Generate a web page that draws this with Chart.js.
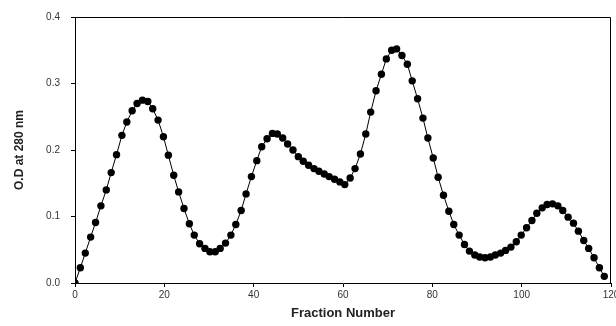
<!DOCTYPE html>
<html>
<head>
<meta charset="utf-8">
<script src="https://cdn.jsdelivr.net/npm/chart.js@4/dist/chart.umd.min.js"></script>
<style>
  html, body { margin: 0; padding: 0; background: #fff; }
  #wrap { width: 616px; height: 326px; position: relative; }
</style>
</head>
<body>
<div id="wrap"><canvas id="myChart" width="616" height="326"></canvas></div>
<script>
// fraction numbers
const fractions = [0, 1.2, 2.3, 3.5, 4.6, 5.8, 7.0, 8.1, 9.3, 10.5,
  11.6, 12.8, 13.9, 15.1, 16.3, 17.4, 18.6, 19.8, 20.9, 22.1,
  23.2, 24.4, 25.6, 26.7, 27.9, 29.1, 30.2, 31.4, 32.5, 33.7,
  34.9, 36.0, 37.2, 38.3, 39.5, 40.7, 41.8, 43.0, 44.2, 45.3,
  46.5, 47.6, 48.8, 50.0, 51.1, 52.3, 53.5, 54.6, 55.8, 56.9,
  58.1, 59.3, 60.4, 61.6, 62.7, 63.9, 65.1, 66.2, 67.4, 68.6,
  69.7, 70.9, 72.0, 73.2, 74.4, 75.5, 76.7, 77.9, 79.0, 80.2,
  81.3, 82.5, 83.7, 84.8, 86.0, 87.2, 88.3, 89.5, 90.6, 91.8,
  93.0, 94.1, 95.3, 96.4, 97.6, 98.8, 99.9, 101.1, 102.3, 103.4,
  104.6, 105.7, 106.9, 108.1, 109.2, 110.4, 111.6, 112.7, 113.9, 115.0,
  116.2, 117.4, 118.5]

// absorbance at 280 nm
const absorbance = [0.000, 0.023, 0.045, 0.069, 0.091, 0.116, 0.140, 0.166, 0.193, 0.222,
  0.242, 0.259, 0.270, 0.275, 0.273, 0.262, 0.245, 0.220, 0.192, 0.162,
  0.137, 0.112, 0.089, 0.072, 0.059, 0.052, 0.047, 0.047, 0.052, 0.060,
  0.072, 0.088, 0.109, 0.134, 0.160, 0.184, 0.205, 0.217, 0.225, 0.224,
  0.218, 0.209, 0.200, 0.190, 0.183, 0.177, 0.172, 0.168, 0.164, 0.160,
  0.156, 0.152, 0.148, 0.158, 0.172, 0.194, 0.224, 0.257, 0.289, 0.314,
  0.337, 0.350, 0.352, 0.342, 0.329, 0.304, 0.277, 0.248, 0.218, 0.188,
  0.159, 0.132, 0.108, 0.088, 0.072, 0.058, 0.048, 0.042, 0.039, 0.038,
  0.039, 0.042, 0.045, 0.049, 0.054, 0.062, 0.072, 0.083, 0.094, 0.105,
  0.113, 0.118, 0.119, 0.116, 0.109, 0.099, 0.090, 0.078, 0.064, 0.052,
  0.038, 0.023, 0.010]

const xTicks = [0, 20, 40, 60, 80, 100, 120]
const yTicks = [0.0, 0.1, 0.2, 0.3, 0.4]

document.addEventListener('DOMContentLoaded', function() {
  initChart()
})

// draws the top and right edge of the plot box
const frameBox = {
  id: 'frameBox',
  afterDraw(chart) {
    const a = chart.chartArea
    const ctx = chart.ctx
    ctx.save()
    ctx.strokeStyle = '#000'
    ctx.lineWidth = 1
    ctx.beginPath()
    ctx.moveTo(a.left, a.top + 0.5)
    ctx.lineTo(a.right - 0.5, a.top + 0.5)
    ctx.lineTo(a.right - 0.5, a.bottom)
    ctx.stroke()
    ctx.restore()
  }
}

function initChart() {
  const ctx = document.getElementById('myChart').getContext('2d')
  const points = fractions.map((f, i) => ({ x: f, y: absorbance[i] }))

  return new Chart(ctx, {
    type: 'line',
    data: {
      datasets: [{
        data: points,
        borderColor: '#000',
        borderWidth: 1,
        backgroundColor: '#000',
        pointBackgroundColor: '#000',
        pointBorderWidth: 0,
        pointRadius: 3.7,
        tension: 0
      }]
    },
    plugins: [frameBox],
    options: {
      responsive: false,
      animation: false,
      layout: { padding: { top: 16, right: 5, left: 0, bottom: 0 } },
      plugins: {
        legend: { display: false },
        tooltip: { enabled: false }
      },
      scales: {
        x: {
          type: 'linear',
          min: 0,
          max: 120,
          afterBuildTicks: function(scale) {
            scale.ticks = xTicks.map(v => ({ value: v }))
          },
          afterFit: function(scale) {
            scale.height = 43
            scale.paddingLeft = 0
            scale.paddingRight = 0
          },
          grid: { display: true, drawOnChartArea: false, tickLength: 4, color: '#000' },
          border: { display: true, color: '#000', width: 1 },
          ticks: {
            color: '#333',
            font: { family: 'Liberation Sans', size: 10 },
            padding: 2,
            maxRotation: 0
          },
          title: {
            display: true,
            text: 'Fraction Number',
            color: '#222',
            font: { family: 'Liberation Sans', size: 13, weight: 'bold' },
            padding: { top: 4, bottom: 5 }
          }
        },
        y: {
          min: 0,
          max: 0.4,
          afterBuildTicks: function(scale) {
            scale.ticks = yTicks.map(v => ({ value: v }))
          },
          afterFit: function(scale) {
            scale.width = 75
          },
          grid: { display: true, drawOnChartArea: false, tickLength: 4, color: '#000' },
          border: { display: true, color: '#000', width: 1 },
          ticks: {
            color: '#333',
            font: { family: 'Liberation Sans', size: 10 },
            padding: 11,
            callback: v => v.toFixed(1)
          },
          title: {
            display: true,
            text: 'O.D at 280 nm',
            color: '#222',
            font: { family: 'Liberation Sans', size: 12, weight: 'bold' },
            padding: { top: 12, bottom: 4 }
          }
        }
      }
    }
  })
}
</script>
</body>
</html>
